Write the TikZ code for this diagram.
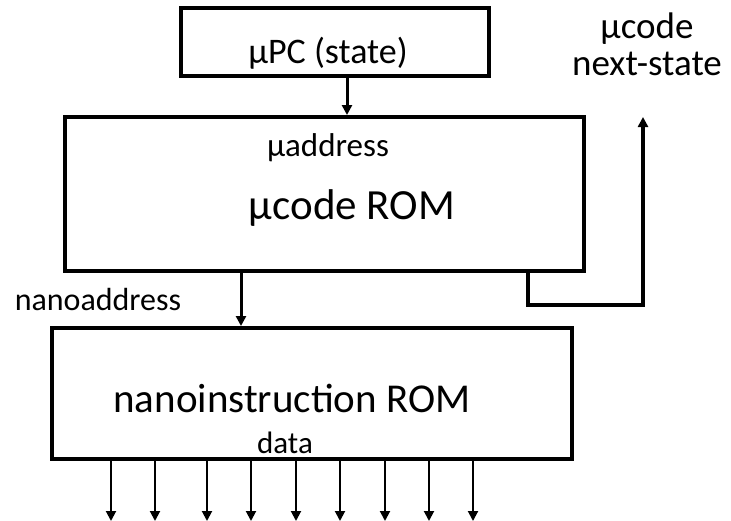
\documentclass[tikz,border=0pt]{standalone}
\usepackage{fontspec}
\setmainfont{Carlito}
\usetikzlibrary{arrows.meta}
\tikzset{
  blk/.style={draw, line width=4pt, inner sep=0pt},
  lbl/.style={inner sep=0pt, anchor=center},
  arr/.style={line width=3pt, -{Triangle[length=10pt,width=10pt]}},
  datarr/.style={line width=2pt, -{Triangle[length=10pt,width=10pt]}}
}
\newcommand{\fs}[1]{\fontsize{#1}{#1}\selectfont}
\begin{document}
\begin{tikzpicture}[x=1pt, y=-1pt]
  \useasboundingbox (0,0) rectangle (731,520);
  % blocks
  \node[blk, minimum width=308pt, minimum height=68pt] (pc) at (335,42) {};
  \node[blk, minimum width=519pt, minimum height=154pt] (rom) at (324.5,194) {};
  \node[blk, minimum width=520pt, minimum height=131pt] (nano) at (312,393.5) {};
  % texts
  \node[lbl, font=\fs{36}] (pclbl) at (328,53) {µPC (state)};
  \node[lbl, font=\fs{33}] (uaddr) at (328,148) {µaddress};
  \node[lbl, font=\fs{43}] (romlbl) at (352,208) {µcode ROM};
  \node[lbl, font=\fs{32}] (naddr) at (98,300) {nanoaddress};
  \node[lbl, font=\fs{41}] (nanolbl) at (292,398) {nanoinstruction ROM};
  \node[lbl, font=\fs{31}] (data) at (285,443) {data};
  \node[lbl, font=\fontsize{37}{37}\selectfont, align=center] (next) at (647,44) {µcode\\next-state};
  \coordinate (nsend) at (643,117);
  % connectors
  \draw[arr] ([xshift=12pt]pc.south) -- ([xshift=12pt]pc.south |- rom.north);
  \draw[arr] ([xshift=178pt]rom.south west) -- ([xshift=178pt]rom.south west |- nano.north);
  \draw[line width=4pt, -{Triangle[length=10pt,width=10pt]}]
    ([xshift=465pt]rom.south west) -- ++(0,32) -| (nsend);
  \foreach \x in {61,105,157,201,246,290,335,379,423}
    \draw[datarr] ([xshift=\x pt]nano.south west) -- ++(0,60);
\end{tikzpicture}
\end{document}
